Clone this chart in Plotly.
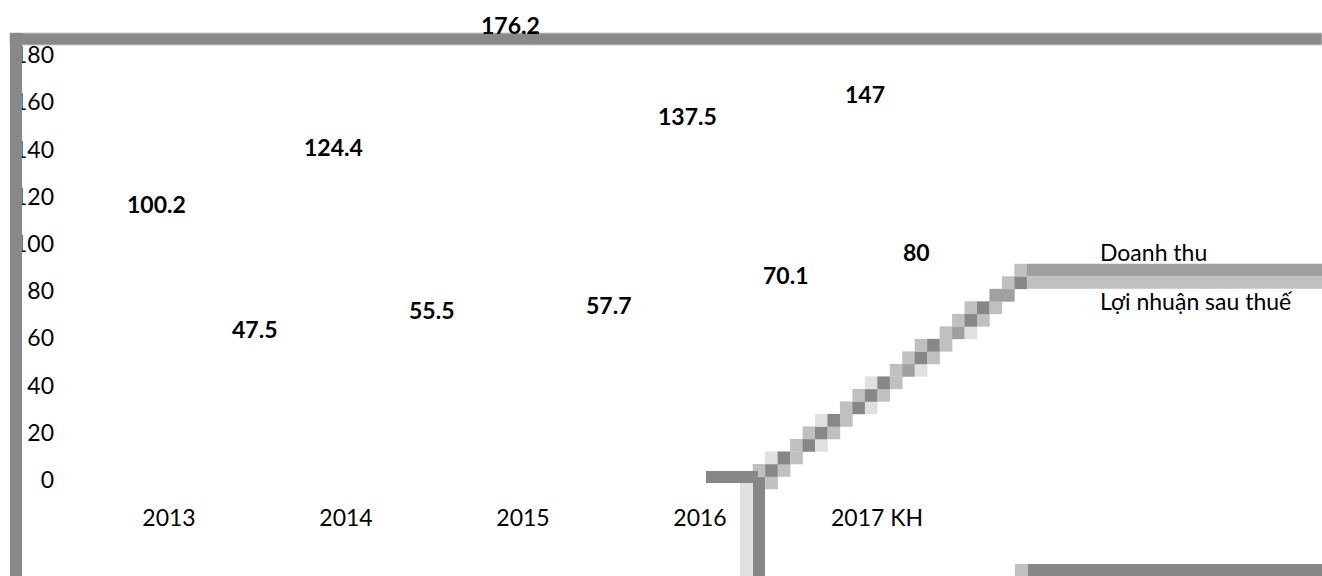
import plotly.graph_objects as go

# ---- data ----
categories = ["2013", "2014", "2015", "2016", "2017 KH"]
doanh_thu = [100.2, 124.4, 176.2, 137.5, 147]
loi_nhuan = [47.5, 55.5, 57.7, 70.1, 80]
y_ticks = [0, 20, 40, 60, 80, 100, 120, 140, 160, 180]

# ---- styling / layout helpers ----
W, H = 1322, 576
L, R, T, B = 55, 0, 55, 96
PW, PH = W - L - R, H - T - B
FONT = "Lato, 'Open Sans', sans-serif"

label_shift_dt = [-12.5] * 5
label_shift_ln = [85, 85, 85, 85, 39]


def px(x, y):
    return (x - L) / PW, (H - B - y) / PH


def rect(x0, y0, x1, y1, fill, line_color=None, line_w=0):
    a, b = px(x0, y1)
    c, d = px(x1, y0)
    return dict(type="rect", xref="paper", yref="paper", x0=a, y0=b, x1=c, y1=d,
                fillcolor=fill, line=dict(color=line_color or fill, width=line_w),
                layer="above")


COL = {"d": "#878787", "a": "#a0a0a0", "c": "#c0c0c0", "e": "#e0e0e0"}
stair = [
    (0, [(1, "c")]),
    (1, [(0, "c"), (1, "d"), (2, "c")]),
    (2, [(1, "e"), (2, "d"), (3, "c")]),
    (3, [(3, "c"), (4, "d"), (5, "e")]),
    (4, [(4, "c"), (5, "d"), (6, "c")]),
    (5, [(5, "e"), (6, "d"), (7, "c")]),
    (6, [(7, "c"), (8, "d"), (9, "e")]),
    (7, [(8, "c"), (9, "d"), (10, "c")]),
    (8, [(9, "e"), (10, "d"), (11, "c")]),
    (9, [(11, "c"), (12, "a"), (13, "e")]),
    (10, [(12, "c"), (13, "d"), (14, "c")]),
    (11, [(13, "c"), (14, "d"), (15, "c")]),
    (12, [(15, "c"), (16, "a"), (17, "e")]),
    (13, [(16, "c"), (17, "d"), (18, "c")]),
    (14, [(17, "c"), (18, "d"), (19, "c")]),
    (15, [(19, "a"), (20, "a")]),
    (16, [(20, "c"), (21, "d")]),
    (17, [(21, "c")]),
]
CX0, CW = 752.7, 12.46
CY0, CH = 489.0, 12.51

shapes = []
for row, cells in stair:
    yb = CY0 - CH * row
    for col, c in cells:
        xl = CX0 + CW * col
        shapes.append(rect(xl, yb - CH, xl + CW + 0.3, yb + 0.3, COL[c]))
# bands to the right
x22 = CX0 + CW * 22
shapes.append(rect(x22, CY0 - CH * 17, W, CY0 - CH * 16, COL["c"]))
shapes.append(rect(x22, CY0 - CH * 18, W, CY0 - CH * 17, COL["a"]))
# bottom right band
shapes.append(rect(1015, 564, 1028, H, COL["c"]))
shapes.append(rect(1028, 564, W, H, COL["d"]))
# 2016 corner
shapes.append(rect(740, 483, 753, H, COL["e"]))
shapes.append(rect(753, 477, 765, H, COL["d"]))
shapes.append(rect(706, 471, 758, 483, COL["d"]))
# frame
shapes.append(rect(10, 33, W, 45, "#888888", "#c8c8c8", 1))
shapes.append(rect(10, 33, 22, H, "#888888"))

fig = go.Figure()
fig.add_trace(go.Bar(x=list(range(len(categories))), y=doanh_thu, name="Doanh thu",
                     marker=dict(color="rgba(0,0,0,0)", line=dict(width=0)),
                     legendgroup="a", hoverinfo="skip"))
fig.add_trace(go.Bar(x=list(range(len(categories))), y=loi_nhuan, name="Lợi nhuận sau thuế",
                     marker=dict(color="rgba(0,0,0,0)", line=dict(width=0)),
                     legendgroup="b", hoverinfo="skip"))

annotations = []
for i, v in enumerate(doanh_thu):
    annotations.append(dict(x=i, y=v, xref="x", yref="y", text=f"<b>{v:g}</b>", showarrow=False,
                            xshift=label_shift_dt[i], yshift=39,
                            font=dict(family=FONT, size=23, color="#000000")))
for i, v in enumerate(loi_nhuan):
    annotations.append(dict(x=i, y=v, xref="x", yref="y", text=f"<b>{v:g}</b>", showarrow=False,
                            xshift=label_shift_ln[i], yshift=39,
                            font=dict(family=FONT, size=23, color="#000000")))

x0p = (169 - L) / 177.0
fig.update_layout(
    width=W, height=H,
    margin=dict(l=L, r=R, t=T, b=B, pad=0),
    paper_bgcolor="white", plot_bgcolor="white",
    font=dict(family=FONT, size=23, color="#000000"),
    barmode="group",
    showlegend=True,
    legend=dict(x=(1060 - L) / PW, y=(H - B - 231) / PH, xanchor="left", yanchor="top",
                bgcolor="rgba(0,0,0,0)", traceorder="grouped", tracegroupgap=16,
                font=dict(family=FONT, size=23, color="#000000")),
    xaxis=dict(range=[-x0p, (W - 169) / 177.0], tickmode="array",
               tickvals=list(range(len(categories))), ticktext=categories,
               showgrid=False, zeroline=False, showline=False, ticks="",
               ticklabelstandoff=22, tickfont=dict(family=FONT, size=23)),
    yaxis=dict(range=[0, 180], tickmode="array", tickvals=y_ticks,
               ticktext=[str(t) for t in y_ticks],
               showgrid=False, zeroline=False, showline=False, ticks="",
               tickfont=dict(family=FONT, size=23)),
    shapes=shapes,
    annotations=annotations,
)

fig.write_html("out.html")
